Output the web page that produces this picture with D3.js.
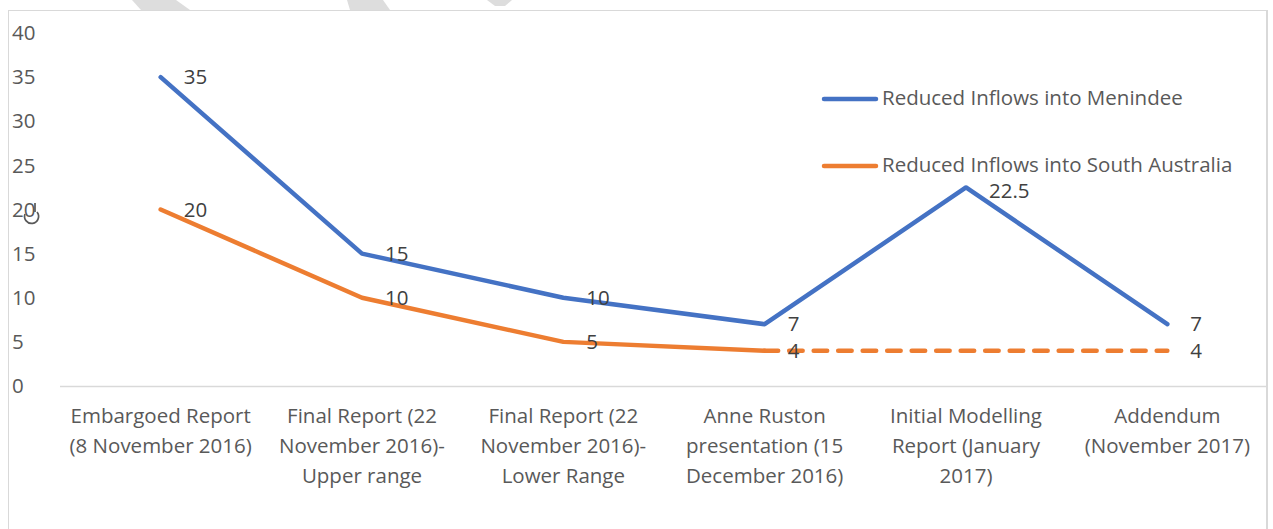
<!DOCTYPE html>
<html lang="en">
<head>
    <meta charset="UTF-8">
    <title>Reduced Inflows</title>
    <script src="https://d3js.org/d3.v7.min.js"></script>
    <style>
        body { margin: 0; background: #fff; }
        svg text { font-family: "Open Sans", "Lato", sans-serif; }
    </style>
</head>
<body>
<svg id="chart" width="1273" height="529"></svg>
<script>
// chart data
const categories = [
    "Embargoed Report\n(8 November 2016)",
    "Final Report (22\nNovember 2016)-\nUpper range",
    "Final Report (22\nNovember 2016)-\nLower Range",
    "Anne Ruston\npresentation (15\nDecember 2016)",
    "Initial Modelling\nReport (January\n2017)",
    "Addendum\n(November 2017)"
];
const menindee = [35, 15, 10, 7, 22.5, 7];
const southAustralia = [20, 10, 5, 4, 4, 4];
const saLabelled = [true, true, true, true, false, true];
const yTicks = [0, 5, 10, 15, 20, 25, 30, 35, 40];
const seriesNames = ["Reduced Inflows into Menindee", "Reduced Inflows into South Australia"];

const svg = d3.select("#chart");
const blue = "#4472C4", orange = "#ED7D31";
const fs = "20.5px";

// watermark bits peeking above the chart box
const wm = [
    [[132, 0], [176, 0], [190, 10], [141, 10]],
    [[347, 0], [383, 0], [390, 10], [350, 10]],
    [[487, 0], [512, 0], [505, 6], [495, 6]]
];
svg.selectAll(".wm").data(wm).join("polygon")
    .attr("points", d => d.map(p => p.join(",")).join(" "))
    .style("fill", "#dddddd");

// chart box
svg.append("rect")
    .attr("x", 8.5).attr("y", 10.5)
    .attr("width", 1258).attr("height", 540)
    .style("fill", "#fff").style("stroke", "#d9d9d9");
svg.append("line")
    .attr("x1", 1267).attr("x2", 1267).attr("y1", 10).attr("y2", 529)
    .style("stroke", "#d9d9d9").style("stroke-width", 2);

const x = d3.scalePoint().domain(d3.range(categories.length)).range([60, 1268]).padding(0.5);
const y = d3.scaleLinear().domain([0, 40]).range([386, 33]);

// baseline
svg.append("line")
    .attr("x1", 60).attr("x2", 1266)
    .attr("y1", y(0) + 0.5).attr("y2", y(0) + 0.5)
    .style("stroke", "#d9d9d9").style("stroke-width", 1.3);

// y tick labels
svg.selectAll(".ytick").data(yTicks).join("text")
    .attr("x", 12).attr("y", d => y(d))
    .attr("dy", "0.35em")
    .style("font-size", fs).style("fill", "#595959")
    .text(d => d);

// category labels
categories.forEach((c, i) => {
    const t = svg.append("text")
        .attr("x", x(i)).attr("y", 416)
        .attr("text-anchor", "middle")
        .style("font-size", fs).style("fill", "#595959");
    c.split("\n").forEach((ln, j) => {
        t.append("tspan").attr("x", x(i)).attr("y", 416 + j * 30).attr("dy", "0.35em").text(ln);
    });
});

const line = d3.line().x((d, i) => x(i)).y(d => y(d));

// menindee
svg.append("path").datum(menindee)
    .attr("d", line)
    .style("fill", "none").style("stroke", blue).style("stroke-width", 4.5)
    .style("stroke-linecap", "round").style("stroke-linejoin", "round");

// south australia: solid up to Anne Ruston, dashed afterwards
const saPts = southAustralia.map((v, i) => [i, v]);
const line2 = d3.line().x(d => x(d[0])).y(d => y(d[1]));
svg.append("path").datum(saPts.slice(0, 4))
    .attr("d", line2)
    .style("fill", "none").style("stroke", orange).style("stroke-width", 4.5)
    .style("stroke-linecap", "round").style("stroke-linejoin", "round");
svg.append("path").datum(saPts.slice(3))
    .attr("d", line2)
    .style("fill", "none").style("stroke", orange).style("stroke-width", 4.5)
    .style("stroke-dasharray", "13.5 11").style("stroke-linecap", "round");

// data labels
menindee.forEach((v, i) => {
    svg.append("text")
        .attr("x", x(i) + 23).attr("y", y(v) + (v === 22.5 ? 3 : 0))
        .attr("dy", "0.35em")
        .style("font-size", fs).style("fill", "#404040")
        .text(v);
});
southAustralia.forEach((v, i) => {
    if (!saLabelled[i]) return;
    svg.append("text")
        .attr("x", x(i) + 23).attr("y", y(v))
        .attr("dy", "0.35em")
        .style("font-size", fs).style("fill", "#404040")
        .text(v);
});

// stray hook mark over the 20 tick (drawn as a path)
svg.append("path")
    .attr("d", "M35,203 L35,212 M37,212 A7,7 0 1 1 25,214")
    .style("fill", "none").style("stroke", "#595959").style("stroke-width", 1.7);

// legend
[blue, orange].forEach((col, i) => {
    const ly = 99 + i * 67;
    svg.append("line")
        .attr("x1", 824).attr("x2", 876).attr("y1", ly).attr("y2", ly)
        .style("stroke", col).style("stroke-width", 4.5).style("stroke-linecap", "round");
    svg.append("text")
        .attr("x", 882).attr("y", ly - 1).attr("dy", "0.35em")
        .style("font-size", fs).style("fill", "#595959")
        .text(seriesNames[i]);
});
</script>
</body>
</html>
